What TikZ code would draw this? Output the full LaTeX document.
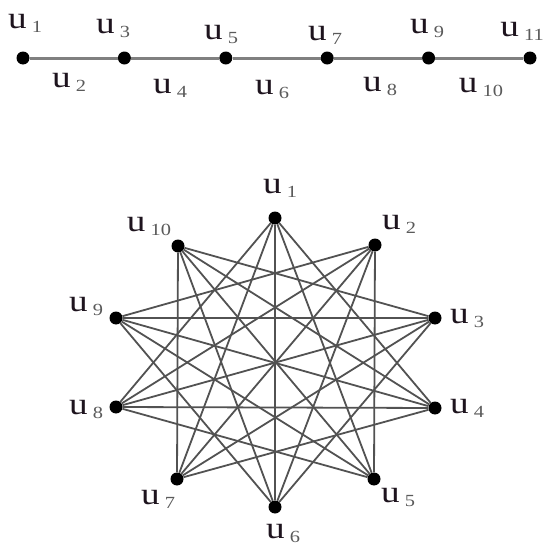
\documentclass[tikz,border=0pt]{standalone}
\usepackage{fontspec}
\setmainfont{Liberation Serif}[FakeStretch=1.2]
\usepackage{xcolor}
\usetikzlibrary{positioning}

\definecolor{subgray}{HTML}{5A5A5A}
\definecolor{ink}{HTML}{1E141E}
\newcommand{\ulab}[1]{u\,\raisebox{-4pt}{\fontsize{17}{17}\selectfont\color{subgray}#1}}

\begin{document}
\begin{tikzpicture}[
    x=1pt, y=-1pt,
    node distance=88pt,
    every node/.style={font=\fontsize{31}{31}\selectfont},
    dot/.style={circle, fill=black, inner sep=0pt, minimum size=13pt},
    lbl/.style={inner sep=0pt, text=ink},
    path line/.style={line width=3pt, draw=black!50},
    edge/.style={line width=1.8pt, draw=black!68}
]
\useasboundingbox (0,0) rectangle (550,546);

% Path
\node[dot] (p1) at (23,58) {};
\node[dot, right=of p1] (p3) {};
\node[dot, right=of p3] (p5) {};
\node[dot, right=of p5] (p7) {};
\node[dot, right=of p7] (p9) {};
\node[dot, right=of p9] (p11) {};

\draw[path line] (p1) -- (p3) -- (p5) -- (p7) -- (p9) -- (p11);

\node[lbl] (lp1) at (25,23) {\ulab{1}};
\node[lbl] (lp3) at (113,28) {\ulab{3}};
\node[lbl] (lp5) at (221,34) {\ulab{5}};
\node[lbl] (lp7) at (325,35) {\ulab{7}};
\node[lbl] (lp9) at (427,28) {\ulab{9}};
\node[lbl] (lp11) at (522,31) {\ulab{11}};
\node[lbl] (lp2) at (69,82) {\ulab{2}};
\node[lbl] (lp4) at (170,88) {\ulab{4}};
\node[lbl] (lp6) at (272,89) {\ulab{6}};
\node[lbl] (lp8) at (380,86) {\ulab{8}};
\node[lbl] (lp10) at (481,87) {\ulab{10}};

% Graph
\node[dot] (v1) at (275,218) {};
\node[dot] (v2) at (375,245) {};
\node[dot] (v3) at (435,318) {};
\node[dot] (v4) at (435,408) {};
\node[dot] (v5) at (374,479) {};
\node[dot] (v6) at (275,507) {};
\node[dot] (v7) at (177,479) {};
\node[dot] (v8) at (116,407) {};
\node[dot] (v9) at (116,318) {};
\node[dot] (v10) at (178,246) {};

\draw[edge] (v1) -- (v4) (v1) -- (v5) (v1) -- (v6) (v1) -- (v7) (v1) -- (v8);
\draw[edge] (v2) -- (v5) (v2) -- (v6) (v2) -- (v7) (v2) -- (v8) (v2) -- (v9);
\draw[edge] (v3) -- (v6) (v3) -- (v7) (v3) -- (v8) (v3) -- (v9) (v3) -- (v10);
\draw[edge] (v4) -- (v7) (v4) -- (v8) (v4) -- (v9) (v4) -- (v10);
\draw[edge] (v5) -- (v8) (v5) -- (v9) (v5) -- (v10);
\draw[edge] (v6) -- (v9) (v6) -- (v10);
\draw[edge] (v7) -- (v10);

\node[lbl] (lv1) at (280,188) {\ulab{1}};
\node[lbl] (lv2) at (399,224) {\ulab{2}};
\node[lbl] (lv3) at (467,318) {\ulab{3}};
\node[lbl] (lv4) at (467,408) {\ulab{4}};
\node[lbl] (lv5) at (398,497) {\ulab{5}};
\node[lbl] (lv6) at (283,533) {\ulab{6}};
\node[lbl] (lv7) at (158,499) {\ulab{7}};
\node[lbl] (lv8) at (86,409) {\ulab{8}};
\node[lbl] (lv9) at (86,306) {\ulab{9}};
\node[lbl] (lv10) at (149,226) {\ulab{10}};

\end{tikzpicture}
\end{document}
